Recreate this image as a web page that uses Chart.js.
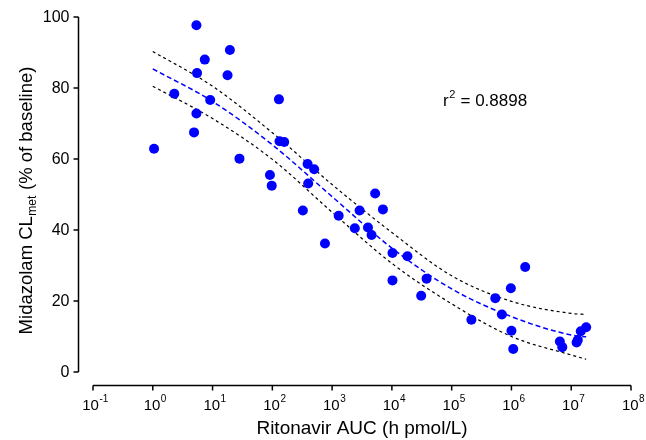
<!DOCTYPE html>
<html>
<head>
<meta charset="utf-8">
<script src="https://cdn.jsdelivr.net/npm/chart.js@4.4.1/dist/chart.umd.min.js"></script>
<style>
html,body{margin:0;padding:0;background:#fff;}
#wrap{width:646px;height:440px;}
</style>
</head>
<body>
<div id="wrap"><canvas id="c" width="646" height="440"></canvas></div>
<script>
// Observed data: ritonavir AUC (h pmol/L) vs midazolam CLmet (% of baseline)
const aucValues = [1.05, 2.29, 4.9, 5.37, 5.5, 5.37, 7.41, 9.12, 17.8, 19.5, 28.2, 91.2, 97.7, 129, 132, 158,
  324, 389, 398, 501, 759, 1288, 2399, 2884, 3981, 4571, 5248, 7079, 10233, 10233, 18197, 30903, 38019,
  213796, 537032, 691831, 977237, 1000000, 1071519, 1698244, 6456542, 7079458, 12302688, 12882496, 14454398, 17782794];
const clValues = [62.9, 78.4, 67.5, 72.8, 84.2, 97.7, 88.0, 76.6, 83.6, 90.7, 60.1, 55.5, 52.5, 76.8, 65.0, 64.8,
  45.5, 58.6, 53.1, 57.1, 36.2, 44.0, 40.5, 45.5, 40.7, 38.6, 50.3, 45.8, 33.5, 25.8, 32.6, 21.5, 26.3,
  14.7, 20.8, 16.2, 23.6, 11.6, 6.5, 29.6, 8.6, 7.0, 8.3, 9.0, 11.5, 12.6];

// Fitted curve and confidence band
const fitAuc = [1, 10, 100, 1000, 10000, 100000, 1000000, 10000000, 17782794];
const fitMid = [85.4, 76.2, 64.0, 49.4, 34.9, 23.4, 15.6, 10.4, 9.9];
const fitUpper = [90.3, 80.5, 67.4, 52.8, 39.3, 27.1, 19.9, 16.5, 16.2];
const fitLower = [80.5, 71.4, 59.9, 45.0, 30.6, 19.2, 10.0, 4.8, 3.6];

const yTicks = [0, 20, 40, 60, 80, 100];
const xTickExponents = [-1, 0, 1, 2, 3, 4, 5, 6, 7, 8];
const xTickValues = [0.1, 1, 10, 100, 1000, 10000, 100000, 1000000, 10000000, 100000000];
const r2Text = "0.8898";

const FONT = '"Liberation Sans", Arial, Helvetica, sans-serif';

const pts = aucValues.map((v, i) => ({x: v, y: clValues[i]}));
const mk = arr => fitAuc.map((v, i) => ({x: v, y: arr[i]}));

const axesPlugin = {
  id: 'axesPlugin',
  afterDraw(chart) {
    const ctx = chart.ctx;
    const xs = chart.scales.x, ys = chart.scales.y;
    ctx.save();
    ctx.strokeStyle = '#000';
    ctx.fillStyle = '#000';
    ctx.lineWidth = 1.5;
    // Y axis
    const yAxisX = 78.5;
    ctx.beginPath();
    ctx.moveTo(yAxisX, ys.getPixelForValue(100));
    ctx.lineTo(yAxisX, ys.getPixelForValue(0));
    ctx.stroke();
    ctx.font = '16px ' + FONT;
    ctx.textAlign = 'right';
    ctx.textBaseline = 'middle';
    yTicks.forEach(t => {
      const py = ys.getPixelForValue(t);
      ctx.beginPath();
      ctx.moveTo(yAxisX - 5, py);
      ctx.lineTo(yAxisX, py);
      ctx.stroke();
      ctx.fillText(String(t), yAxisX - 9, py + 1);
    });
    // X axis
    const xAxisY = 385.5;
    ctx.beginPath();
    ctx.moveTo(xs.getPixelForValue(0.1), xAxisY);
    ctx.lineTo(xs.getPixelForValue(1e8), xAxisY);
    ctx.stroke();
    xTickValues.forEach((v, i) => {
      const px = xs.getPixelForValue(v);
      ctx.beginPath();
      ctx.moveTo(px, xAxisY);
      ctx.lineTo(px, xAxisY + 5);
      ctx.stroke();
      const e = String(xTickExponents[i]);
      ctx.font = '15px ' + FONT;
      const wb = ctx.measureText('10').width;
      ctx.font = '10px ' + FONT;
      const we = ctx.measureText(e).width;
      const start = px - (wb + we) / 2 + 2;
      ctx.textAlign = 'left';
      ctx.textBaseline = 'alphabetic';
      ctx.font = '15px ' + FONT;
      ctx.fillText('10', start, 410);
      ctx.font = '10px ' + FONT;
      ctx.fillText(e, start + wb + 0.5, 402);
    });
    // X title
    ctx.font = '19px ' + FONT;
    ctx.textAlign = 'center';
    ctx.textBaseline = 'alphabetic';
    ctx.fillText('Ritonavir AUC (h pmol/L)', 362, 434);
    // Y title with subscript
    ctx.save();
    ctx.translate(32, 201);
    ctx.rotate(-Math.PI / 2);
    const p1 = 'Midazolam CL', p2 = 'met', p3 = ' (% of baseline)';
    ctx.font = '18.5px ' + FONT;
    const w1 = ctx.measureText(p1).width, w3 = ctx.measureText(p3).width;
    ctx.font = '12px ' + FONT;
    const w2 = ctx.measureText(p2).width;
    let sx = -(w1 + w2 + w3) / 2;
    ctx.textAlign = 'left';
    ctx.textBaseline = 'alphabetic';
    ctx.font = '18.5px ' + FONT;
    ctx.fillText(p1, sx, 0);
    ctx.font = '12px ' + FONT;
    ctx.fillText(p2, sx + w1 + 0.5, 4);
    ctx.font = '18.5px ' + FONT;
    ctx.fillText(p3, sx + w1 + w2 + 1, 0);
    ctx.restore();
    // r² annotation
    ctx.textAlign = 'left';
    ctx.font = '17px ' + FONT;
    ctx.fillText('r', 443, 106);
    const wr = ctx.measureText('r').width;
    ctx.font = '11px ' + FONT;
    ctx.fillText('2', 443 + wr + 0.5, 98);
    const w2b = ctx.measureText('2').width;
    ctx.font = '17px ' + FONT;
    ctx.fillText(' = ' + r2Text, 443 + wr + w2b + 1, 106);
    ctx.restore();
  }
};

new Chart(document.getElementById('c'), {
  type: 'scatter',
  data: {
    datasets: [
      {data: mk(fitUpper), type: 'line', showLine: true, borderColor: '#000', borderWidth: 1.2,
       borderDash: [3, 3], pointRadius: 0, fill: false, cubicInterpolationMode: 'monotone', order: 3},
      {data: mk(fitLower), type: 'line', showLine: true, borderColor: '#000', borderWidth: 1.2,
       borderDash: [3, 3], pointRadius: 0, fill: false, cubicInterpolationMode: 'monotone', order: 3},
      {data: mk(fitMid), type: 'line', showLine: true, borderColor: '#0000ff', borderWidth: 1.5,
       borderDash: [5, 3], pointRadius: 0, fill: false, cubicInterpolationMode: 'monotone', order: 2},
      {data: pts, backgroundColor: '#0000ff', borderColor: '#0000ff', pointRadius: 5,
       pointBorderWidth: 0, order: 1}
    ]
  },
  options: {
    responsive: false,
    animation: false,
    layout: {padding: {left: 93, right: 15, top: 17, bottom: 68}},
    plugins: {legend: {display: false}, tooltip: {enabled: false}},
    scales: {
      x: {type: 'logarithmic', min: 0.1, max: 1e8, display: false},
      y: {type: 'linear', min: 0, max: 100, display: false}
    }
  },
  plugins: [axesPlugin]
});
</script>
</body>
</html>
